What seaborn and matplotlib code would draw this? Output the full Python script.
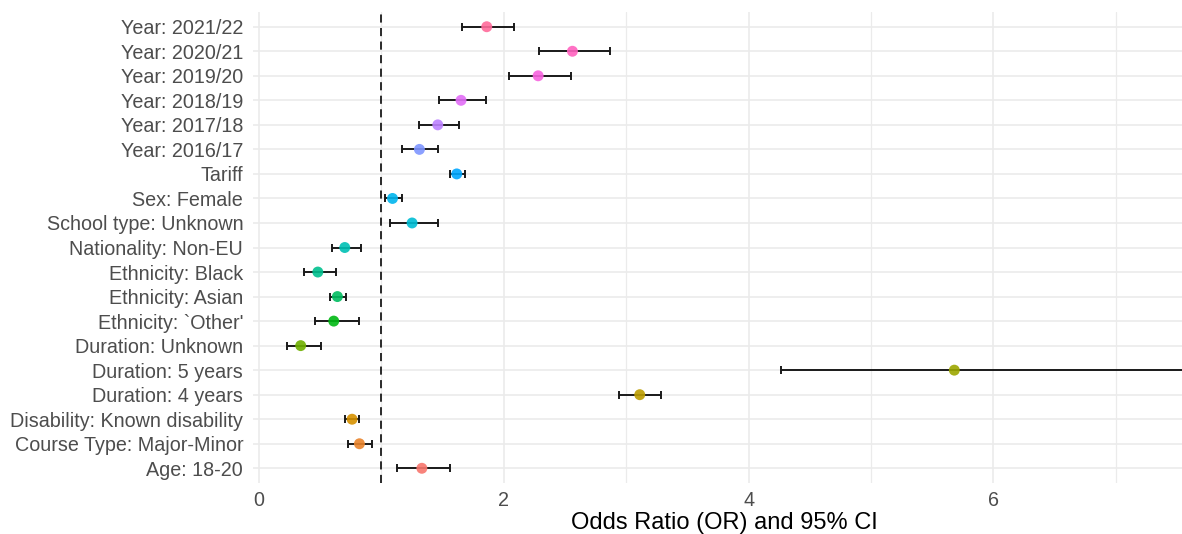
import numpy as np
import pandas as pd
import matplotlib
matplotlib.use("Agg")
import matplotlib.pyplot as plt
import seaborn as sns

# terms listed bottom -> top (factor level order)
terms = [
    "Age: 18-20",
    "Course Type: Major-Minor",
    "Disability: Known disability",
    "Duration: 4 years",
    "Duration: 5 years",
    "Duration: Unknown",
    "Ethnicity: `Other'",
    "Ethnicity: Asian",
    "Ethnicity: Black",
    "Nationality: Non-EU",
    "School type: Unknown",
    "Sex: Female",
    "Tariff",
    "Year: 2016/17",
    "Year: 2017/18",
    "Year: 2018/19",
    "Year: 2019/20",
    "Year: 2020/21",
    "Year: 2021/22",
]
odds_ratio = [1.33, 0.82, 0.76, 3.11, 5.68, 0.34, 0.61, 0.64, 0.48, 0.70,
              1.25, 1.09, 1.615, 1.31, 1.46, 1.65, 2.28, 2.56, 1.86]
ci_low = [1.13, 0.73, 0.70, 2.94, 4.26, 0.225, 0.46, 0.58, 0.37, 0.595,
          1.07, 1.03, 1.56, 1.17, 1.31, 1.47, 2.04, 2.29, 1.66]
ci_high = [1.56, 0.92, 0.82, 3.28, 7.90, 0.51, 0.82, 0.71, 0.63, 0.83,
           1.46, 1.165, 1.68, 1.46, 1.63, 1.85, 2.55, 2.87, 2.08]


def ggplot_hue(n, c=100.0, l=65.0):
    # same colours as scales::hue_pal()
    hues = np.linspace(15, 375, n + 1)[:n]
    un, vn = 0.1978398, 0.4683363
    out = []
    for h in hues:
        u = c * np.cos(np.radians(h))
        v = c * np.sin(np.radians(h))
        Y = ((l + 16) / 116) ** 3
        up = u / (13 * l) + un
        vp = v / (13 * l) + vn
        X = 9 * Y * up / (4 * vp)
        Z = -X / 3 - 5 * Y + 3 * Y / vp
        M = np.array([[3.240479, -1.537150, -0.498535],
                      [-0.969256, 1.875992, 0.041556],
                      [0.055648, -0.204043, 1.057311]])
        rgb = M @ np.array([X, Y, Z])
        rgb = np.where(rgb <= 0.0031308, 12.92 * rgb, 1.055 * np.clip(rgb, 0, None) ** (1 / 2.4) - 0.055)
        out.append(tuple(np.clip(rgb, 0, 1)))
    return out


df = pd.DataFrame({"term": terms, "or": odds_ratio, "lo": ci_low, "hi": ci_high})
df["pos"] = np.arange(len(df))
palette = dict(zip(terms, ggplot_hue(len(terms))))

sns.set_theme(style="whitegrid")
plt.rcParams["font.family"] = ["Liberation Sans", "DejaVu Sans"]

fig = plt.figure(figsize=(11.82, 5.34), dpi=100)
ax = fig.add_axes([0.214, 0.0955, 0.786, 0.882])

ax.errorbar(df["or"], df["pos"], xerr=[df["or"] - df["lo"], df["hi"] - df["or"]],
            fmt="none", ecolor="#1a1a1a", elinewidth=1.4, capsize=3, capthick=1.4, zorder=2)
sns.scatterplot(data=df, x="or", y="pos", hue="term", palette=palette, s=62,
                alpha=0.9, edgecolor="none", legend=False, ax=ax, zorder=3)
ax.axvline(1, color="#1a1a1a", lw=1.3, linestyle=(0, (4.5, 3)), zorder=1)

ax.set_xlim(-0.05, 7.54)
ax.set_ylim(-0.6, len(terms) - 0.4)
ax.set_xticks([0, 2, 4, 6])
ax.set_xticks([1, 3, 5, 7], minor=True)
ax.set_yticks(df["pos"])
ax.set_yticklabels(terms)
ax.grid(True, which="major", color="#EBEBEB", lw=1.2)
ax.grid(True, which="minor", axis="x", color="#EBEBEB", lw=0.9)
ax.tick_params(axis="y", length=0, pad=7, labelsize=14.2, labelcolor="#4D4D4D")
ax.tick_params(axis="x", which="both", length=0, pad=6, labelsize=14.2, labelcolor="#4D4D4D")
for s in ax.spines.values():
    s.set_visible(False)
ax.set_ylabel("")
ax.set_xlabel("Odds Ratio (OR) and 95% CI", fontsize=17, color="black")
ax.xaxis.set_label_coords(0.507, -0.062, transform=ax.transAxes)
ax.xaxis.label.set_va("top")

fig.savefig("out.png", dpi=100)
